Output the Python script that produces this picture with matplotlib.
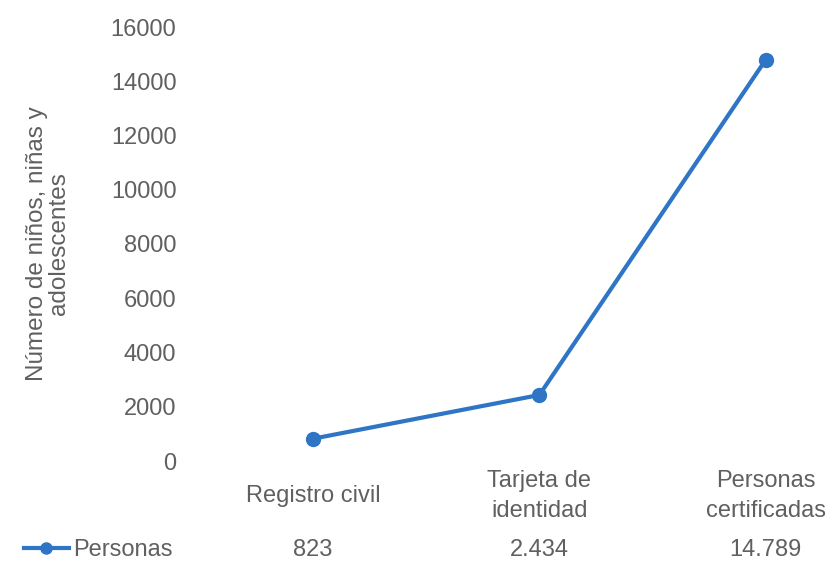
import matplotlib.pyplot as plt
from matplotlib.transforms import blended_transform_factory

categories = ['Registro civil', 'Tarjeta de\nidentidad', 'Personas\ncertificadas']
personas = [823, 2434, 14789]
series_name = 'Personas'
y_ticks = [0, 2000, 4000, 6000, 8000, 10000, 12000, 14000, 16000]

plt.rcParams['font.family'] = ['Liberation Sans', 'DejaVu Sans']
grey = '#606060'
blue = '#2E75C5'

fig = plt.figure(figsize=(8.29, 5.61), dpi=100)
ax = fig.add_axes([200 / 829, 100 / 561, 629 / 829, 434 / 561])

x = list(range(len(categories)))
ax.plot(x, personas, color=blue, linewidth=3, marker='o', markersize=10,
        label=series_name)

ax.set_ylim(0, 16000)
ax.set_xlim(-0.5, 2.28)
ax.set_yticks(y_ticks)
ax.set_yticklabels([str(t) for t in y_ticks], fontsize=17, color=grey)
ax.set_xticks(x)
ax.set_xticklabels(categories, fontsize=17, color=grey, va='center',
                   linespacing=1.45)
ax.tick_params(axis='y', length=0, pad=17)
ax.tick_params(axis='x', length=0, pad=25)
for s in ax.spines.values():
    s.set_visible(False)

ax.set_ylabel('Número de niños, niñas y\nadolescentes', fontsize=17.5,
              color=grey, labelpad=29, linespacing=1.0)

# data table row
trans = blended_transform_factory(ax.transData, ax.transAxes)
for xi, v in zip(x, personas):
    ax.text(xi, -0.205, f'{v:,}'.replace(',', '.'), transform=trans,
            ha='center', va='center', fontsize=17, color=grey)

ax.legend(loc='center left', bbox_to_anchor=(24 / 829, 11 / 561),
          bbox_transform=fig.transFigure, frameon=False, fontsize=17,
          labelcolor=grey, handlelength=1.9, handletextpad=0.2,
          borderpad=0, borderaxespad=0, markerscale=0.8)

fig.savefig('out.png', dpi=100)
